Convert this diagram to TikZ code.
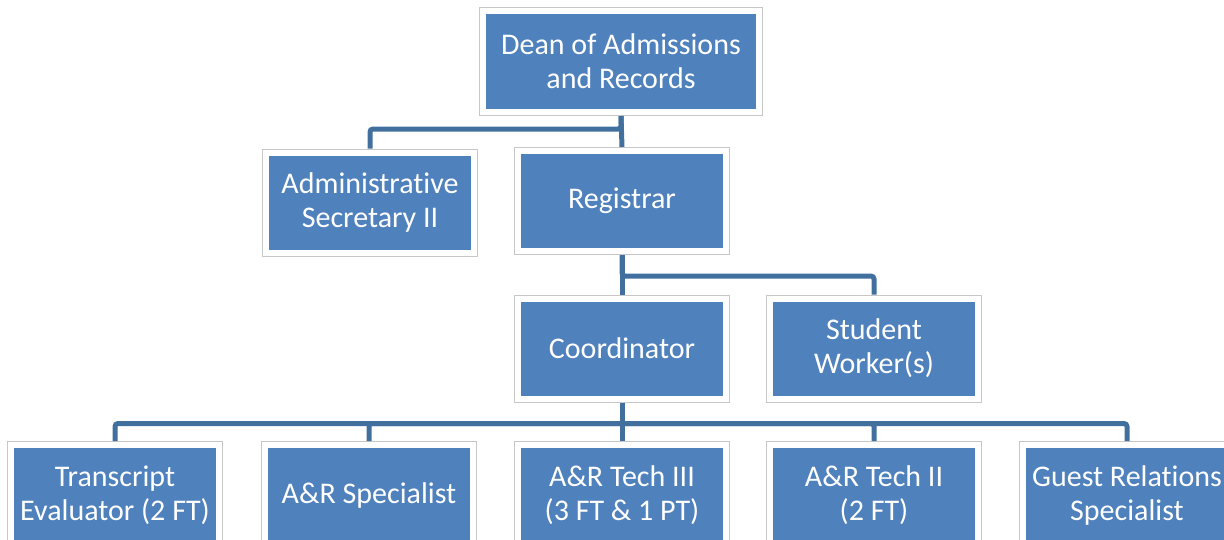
\documentclass[tikz,border=0pt]{standalone}
\usepackage{fontspec}
\setmainfont{Carlito}[Ligatures=NoCommon]
\definecolor{boxblue}{HTML}{4F81BD}
\definecolor{linkblue}{HTML}{41709F}
\tikzset{
   post/.style={fill=boxblue, draw=white, line width=6pt,
      preaction={draw=black!22, line width=8pt},
      minimum width=208pt, minimum height=100pt, outer sep=4pt, inner sep=0pt,
      align=center, text=white, font=\fontsize{30}{34}\selectfont},
   link/.style={draw=linkblue, line width=5pt, rounded corners=3pt}
}
\begin{document}
\begin{tikzpicture}[x=1pt, y=1pt]
      \useasboundingbox (0,0) rectangle (1224,-539);
      \clip (0,0) rectangle (1224,-539);

      \node[post, minimum width=276pt, minimum height=101pt] (dean) at (621, -61.5) {Dean of Admissions\\and Records};

      \begin{scope}[name prefix = staff-]
         \node[post] (admin) at (370, -202.5) {Administrative\\Secretary II};
         \node[post] (reg) at (622, -201) {Registrar};
         \node[post] (coord) at (622, -348.5) {Coordinator};
         \node[post] (student) at (874, -348.5) {Student\\Worker(s)};
      \end{scope}

      \begin{scope}[name prefix = unit-]
         \node[post] (1) at (115, -495) {Transcript\\Evaluator (2 FT)};
         \node[post] (2) at (369, -495) {A\&R Specialist};
         \node[post] (3) at (622, -495) {A\&R Tech III\\(3 FT \& 1 PT)};
         \node[post] (4) at (874, -495) {A\&R Tech II\\(2 FT)};
         \node[post] (5) at (1127, -495) {Guest Relations\\Specialist};
      \end{scope}

      \begin{scope}
         \draw[link] (dean.south) -- (staff-reg.north);
         \draw[link] (dean.south) -- ++(0,-13) -| (staff-admin.north);
         \draw[link] (staff-reg.south) -- (staff-coord.north);
         \draw[link] (staff-reg.south) -- ++(0,-21) -| (staff-student.north);
         \draw[link] (staff-coord.south) -- (unit-3.north);
         \draw[link] (staff-coord.south) -- ++(0,-21) coordinate (bus);
         \draw[link] (bus) -| (unit-1.north);
         \draw[link] (bus) -| (unit-2.north);
         \draw[link] (bus) -| (unit-4.north);
         \draw[link] (bus) -| (unit-5.north);
      \end{scope}
\end{tikzpicture}
\end{document}
